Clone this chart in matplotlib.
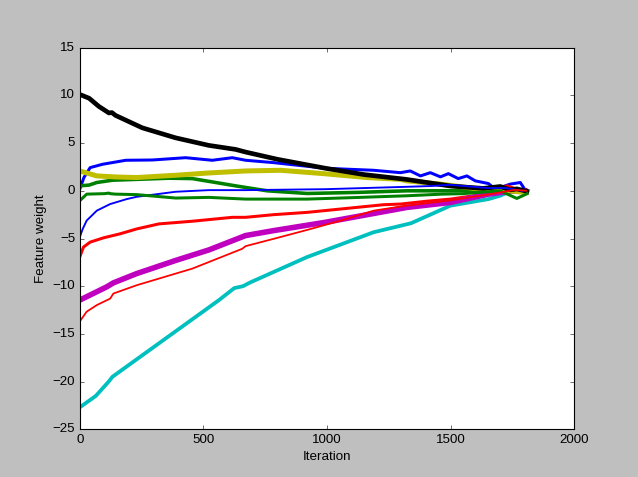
import numpy as np
import matplotlib.pyplot as plt

plt.style.use('classic')
plt.rcParams['font.family'] = ['Liberation Sans', 'DejaVu Sans']

# feature weights, one (iteration, weight) list per line
blue1_it = [0, 17, 42, 92, 186, 294, 428, 536, 617, 671, 785, 994, 1189, 1297, 1337, 1378,
            1418, 1459, 1491, 1531, 1566, 1600, 1653, 1681, 1741, 1782, 1802]
blue1_w = [0.17, 1.4, 2.43, 2.78, 3.2, 3.23, 3.47, 3.2, 3.47, 3.2, 2.95, 2.36, 2.15, 1.9, 2.08,
           1.56, 1.9, 1.46, 1.8, 1.28, 1.56, 1.04, 0.76, 0.17, 0.7, 0.87, 0.07]

green1_it = [0, 38, 69, 132, 230, 360, 455, 550, 630, 671, 758, 920, 1122, 1324, 1499, 1650,
             1700, 1750, 1800]
green1_w = [0.52, 0.6, 0.87, 1.11, 1.2, 1.32, 1.28, 0.87, 0.52, 0.35, 0.0, -0.28, -0.17, 0.0,
            0.0, 0.07, 0.3, -0.1, -0.17]

red1_it = [0, 15, 42, 96, 163, 230, 320, 455, 617, 671, 785, 920, 1055, 1228, 1297, 1400, 1499,
           1600, 1670, 1728, 1768, 1802]
red1_w = [-6.94, -5.9, -5.38, -4.93, -4.51, -4.0, -3.47, -3.19, -2.78, -2.78, -2.5, -2.26,
          -1.91, -1.46, -1.39, -1.1, -0.87, -0.5, -0.17, 0.52, 0.17, 0.0]

cyan_it = [0, 65, 118, 132, 563, 625, 660, 690, 920, 1189, 1340, 1499, 1653, 1700, 1720]
cyan_w = [-22.7, -21.5, -19.97, -19.5, -11.46, -10.2, -10.0, -9.6, -6.94, -4.34, -3.4, -1.56,
          -0.87, -0.52, -0.3]

magenta_it = [0, 109, 136, 230, 388, 522, 671, 785, 994, 1324, 1499, 1653, 1750, 1800]
magenta_w = [-11.46, -10.07, -9.65, -8.68, -7.3, -6.2, -4.69, -4.17, -3.3, -1.74, -1.22, -0.35,
             0.0, 0.0]

yellow_it = [0, 69, 145, 230, 388, 522, 671, 812, 986, 1162, 1297, 1324, 1459, 1620, 1700, 1800]
yellow_w = [2.08, 1.56, 1.45, 1.39, 1.63, 1.87, 2.08, 2.15, 1.8, 1.39, 1.2, 1.04, 0.7, 0.17,
            0.1, -0.17]

black_it = [0, 38, 77, 118, 130, 145, 253, 388, 522, 630, 671, 800, 994, 1150, 1320, 1500,
            1632, 1701, 1741, 1768, 1809]
black_w = [10.1, 9.7, 8.85, 8.16, 8.2, 7.9, 6.6, 5.55, 4.76, 4.34, 4.06, 3.3, 2.36, 1.7, 1.2,
           0.5, 0.25, 0.45, 0.1, 0.2, -0.05]

blue2_it = [0, 12, 28, 69, 123, 190, 230, 388, 522, 671, 994, 1324, 1420, 1499, 1653,
            1720, 1790]
blue2_w = [-4.86, -4.0, -3.12, -2.08, -1.39, -0.87, -0.63, -0.1, 0.07, 0.07, 0.17, 0.42,
           0.5, 0.63, 0.28, 0.3, 0.0]

green2_it = [0, 28, 100, 118, 123, 145, 230, 388, 522, 671, 920, 1122, 1324, 1466, 1550, 1700,
             1768, 1810]
green2_w = [-1.04, -0.35, -0.3, -0.24, -0.3, -0.35, -0.4, -0.76, -0.69, -0.87, -0.87, -0.7,
            -0.52, -0.35, -0.3, 0.0, -0.8, -0.3]

red2_it = [0, 28, 69, 123, 136, 230, 455, 657, 671, 785, 920, 1055, 1189, 1310, 1499, 1650,
           1760, 1805]
red2_w = [-13.7, -12.67, -11.98, -11.3, -10.77, -9.9, -8.16, -6.08, -5.8, -5.03, -4.1, -3.13,
          -2.08, -1.6, -1.0, -0.4, 0.1, 0.0]


def main():
    fig = plt.figure(figsize=(638 / 80, 477 / 80), dpi=80)
    ax = fig.add_subplot(111)

    lines = [
        (blue1_it, blue1_w, 'b', 2.7),
        (green1_it, green1_w, 'g', 3.2),
        (red1_it, red1_w, 'r', 2.7),
        (cyan_it, cyan_w, 'c', 3.4),
        (magenta_it, magenta_w, 'm', 5.0),
        (yellow_it, yellow_w, 'y', 4.5),
        (black_it, black_w, 'k', 4.2),
        (blue2_it, blue2_w, 'b', 1.7),
        (green2_it, green2_w, 'g', 2.7),
        (red2_it, red2_w, 'r', 1.6),
    ]
    for it, w, c, lw in lines:
        ax.plot(it, w, color=c, lw=lw)

    ax.set_xlim(0, 2000)
    ax.set_ylim(-25, 15)
    ax.set_xlabel("Iteration")
    ax.set_ylabel("Feature weight")
    fig.savefig("out.png", dpi=80, facecolor=fig.get_facecolor())


if __name__ == "__main__":
    main()
